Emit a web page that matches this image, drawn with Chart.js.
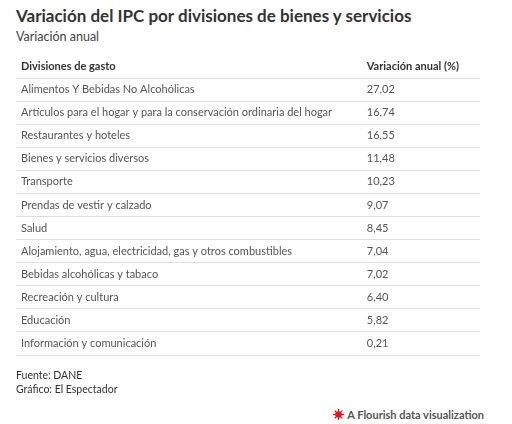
<!DOCTYPE html>
<html>
<head>
<meta charset="utf-8">
<script src="https://cdn.jsdelivr.net/npm/chart.js@4/dist/chart.umd.min.js"></script>
<style>
  body { margin: 0; background: #fff; font-family: Lato, "Noto Sans", sans-serif; color: #333; }
  #wrap { position: relative; width: 512px; height: 424px; overflow: hidden; }
  h1 { position: absolute; left: 16px; top: 5px; margin: 0; font-size: 17px; font-weight: 700; color: #333; }
  .sub { position: absolute; left: 16px; top: 29px; font-size: 12.5px; color: #444; }
  #box { position: absolute; left: 0; top: 35px; width: 512px; height: 340px; }
  .foot { position: absolute; left: 16px; top: 368px; font-size: 10.5px; line-height: 14px; color: #333; }
  .flourish { position: absolute; right: 28px; top: 408px; font-size: 11px; font-weight: 700; color: #555; display: flex; align-items: center; gap: 3px; }
</style>
</head>
<body>
<div id="wrap">
  <h1>Variación del IPC por divisiones de bienes y servicios</h1>
  <div class="sub">Variación anual</div>
  <div id="box"><canvas id="table"></canvas></div>
  <div class="foot">Fuente: DANE<br>Gráfico: El Espectador</div>
  <div class="flourish">
    <svg width="11" height="11" viewBox="0 0 12 12"><g stroke="#e8151d" stroke-width="1.4"><line x1="6" y1="0" x2="6" y2="12"/><line x1="0" y1="6" x2="12" y2="6"/><line x1="1.8" y1="1.8" x2="10.2" y2="10.2"/><line x1="10.2" y1="1.8" x2="1.8" y2="10.2"/></g><circle cx="6" cy="6" r="3.6" fill="#e8151d"/></svg>
    <span>A Flourish data visualization</span>
  </div>
</div>
<script>
const headers = ['Divisiones de gasto', 'Variación anual (%)'];
const divisions = [
  'Alimentos Y Bebidas No Alcohólicas',
  'Artículos para el hogar y para la conservación ordinaria del hogar',
  'Restaurantes y hoteles',
  'Bienes y servicios diversos',
  'Transporte',
  'Prendas de vestir y calzado',
  'Salud',
  'Alojamiento, agua, electricidad, gas y otros combustibles',
  'Bebidas alcohólicas y tabaco',
  'Recreación y cultura',
  'Educación',
  'Información y comunicación'
];
const annualChange = [27.02, 16.74, 16.55, 11.48, 10.23, 9.07, 8.45, 7.04, 7.02, 6.40, 5.82, 0.21];

const FONT = 'Lato, "Noto Sans", sans-serif';
const VALUE_COL = 0.756;

// second column: value text drawn at each row's position on the category scale
const valueColumn = {
    id: 'valueColumn',
    afterDatasetsDraw(chart) {
        const { ctx, chartArea, scales } = chart;
        const x = chartArea.left + (chartArea.right - chartArea.left) * VALUE_COL;
        ctx.save();
        ctx.textBaseline = 'middle';
        ctx.textAlign = 'left';
        ctx.font = 'bold 11px ' + FONT;
        ctx.fillStyle = '#333';
        ctx.fillText(headers[1], x, scales.y.getPixelForValue(0));
        ctx.font = '11px ' + FONT;
        ctx.fillStyle = '#555';
        chart.data.datasets[0].data.forEach((v, i) => {
            if (v == null) return;
            ctx.fillText(v.toFixed(2).replace('.', ','), x, scales.y.getPixelForValue(i));
        });
        ctx.restore();
    }
};

new Chart(document.getElementById('table'), {
    type: 'bar',
    data: {
        labels: [headers[0], ...divisions],
        datasets: [{
            data: [null, ...annualChange],
            backgroundColor: 'transparent',
        }],
    },
    plugins: [valueColumn],
    options: {
        indexAxis: 'y',
        responsive: true,
        maintainAspectRatio: false,
        animation: false,
        events: [],
        // axis itself takes 2 x tick padding, so left pad + 10 = table edge
        layout: { padding: { left: 6, right: 32, top: 20, bottom: 20 } },
        plugins: {
            legend: { display: false },
            tooltip: { enabled: false },
        },
        scales: {
            x: { display: false, min: 0, max: 30 },
            y: {
                border: { display: false },
                grid: {
                    offset: true,
                    drawTicks: false,
                    color: (c) => (c.index === 0 ? 'transparent' : '#dddddd'),
                    lineWidth: 1,
                },
                ticks: {
                    mirror: true,
                    padding: 5,
                    autoSkip: false,
                    font: (c) => ({ family: FONT, size: 11, weight: c.index === 0 ? 'bold' : 'normal' }),
                    color: (c) => (c.index === 0 ? '#333' : '#555'),
                },
            },
        },
    },
});
</script>
</body>
</html>
